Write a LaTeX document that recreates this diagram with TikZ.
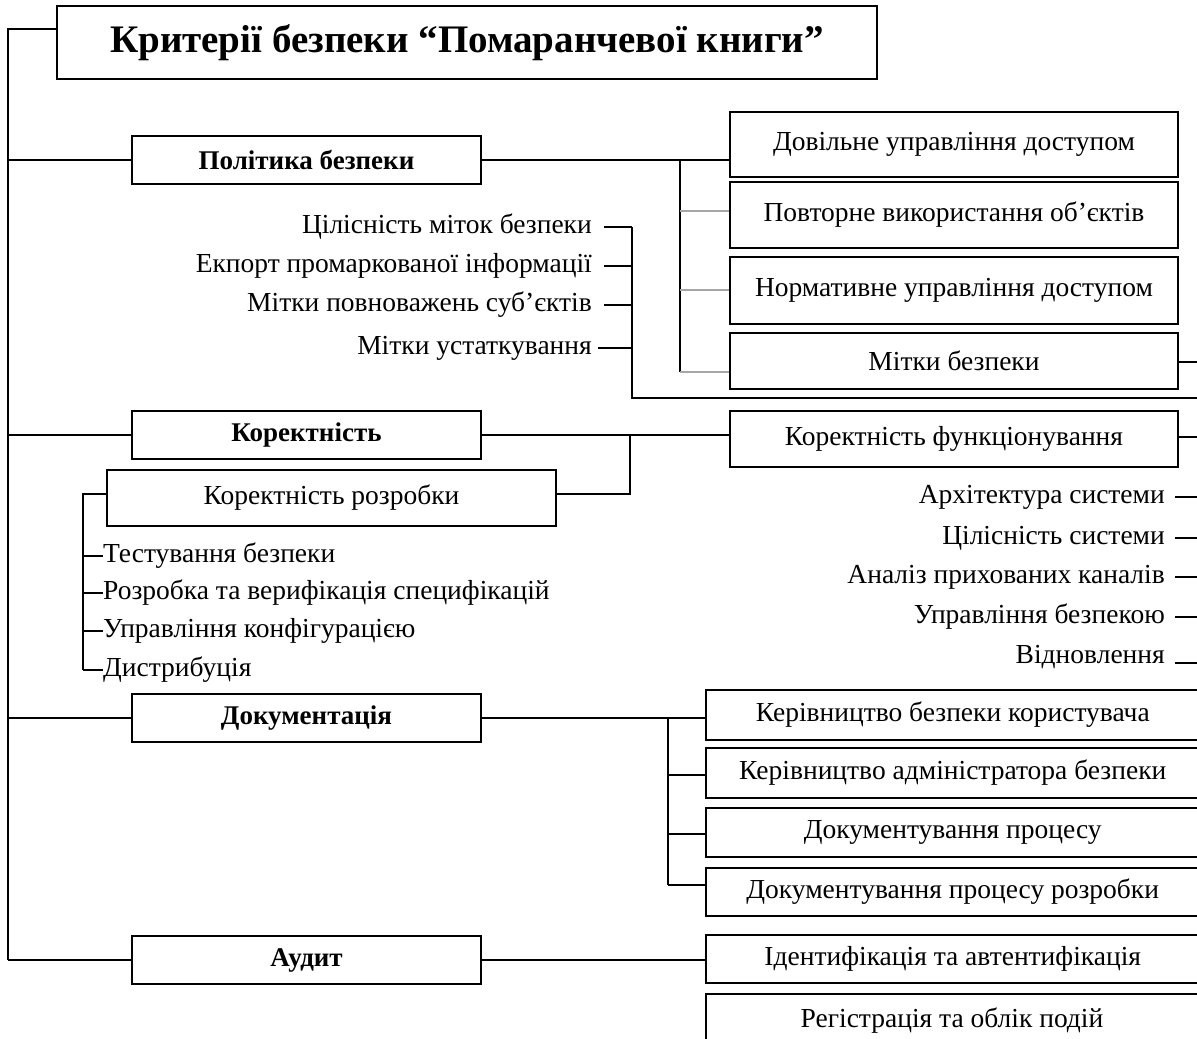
\documentclass[tikz,border=0pt]{standalone}
\usepackage{fontspec}
\setmainfont{Liberation Serif}
\usetikzlibrary{positioning}
\usetikzlibrary{calc}

\begin{document}
\begin{tikzpicture}[
    x=1pt, y=-1pt,
    box/.style={draw, line width=1.5pt, inner sep=0pt, font=\fontsize{27.5}{30}\selectfont},
    catbox/.style={box, minimum width=349, minimum height=48, font=\bfseries\fontsize{27}{30}\selectfont},
    item/.style={inner sep=0pt, font=\fontsize{27.5}{30}\selectfont},
    link/.style={line width=1.5pt},
    glink/.style={line width=1.5pt, gray!70}
]
    \useasboundingbox (0,0) rectangle (1197,1039);
    \clip (0,0) rectangle (1197,1039);

    % title and main criteria
    \node[box, minimum width=820, minimum height=73, font=\bfseries\fontsize{39}{44}\selectfont] (title) at (467,42.5) {Критерії безпеки “Помаранчевої книги”};
    \coordinate (root) at (8,29);

    \node[catbox] (pol) at (306.5,160) {Політика безпеки};
    \node[catbox] (kor) at (306.5,435) {Коректність};
    \node[catbox] (dok) at (306.5,718) {Документація};
    \node[catbox] (aud) at (306.5,960) {Аудит};

    \draw[link] (root -| title.west) -- (root) -- (root |- aud);
    \foreach \n in {pol, kor, dok, aud} {
        \draw[link] (root |- \n) -- (\n.west);
    }

    % security policy
    \node[box, minimum width=448, minimum height=65] (dov) at (954,144.5) {Довільне управління доступом};
    \node[box, minimum width=448, minimum height=66] (pov) at (954,215) {Повторне використання об’єктів};
    \node[box, minimum width=448, minimum height=67] (norm) at (954,290.5) {Нормативне управління доступом};
    \node[box, minimum width=448, minimum height=56] (mit) at (954,361) {Мітки безпеки};

    \coordinate (pj) at (680,160);
    \draw[link] (pol.east) -- (pol.east -| dov.west);
    \draw[link] (pj) -- (pj |- 0,372);
    \foreach \b/\yy in {pov/211, norm/290, mit/372} {
        \draw[glink] (pj |- 0,\yy) -- (\b.west |- 0,\yy);
    }
    \coordinate (mr) at (1197,362);
    \draw[link] (mit.east |- mr) -- (mr);

    \foreach \t/\yy [count=\i] in {Цілісність міток безпеки/227, Екпорт промаркованої інформації/266,
            Мітки повноважень суб’єктів/305, Мітки устаткування/348} {
        \node[item, anchor=east] (ml\i) at (592,\yy) {\t};
    }
    \coordinate (mj) at (632,398);
    \coordinate (mjr) at (1197,398);
    \foreach \i in {1,2,3} {
        \draw[link] ([xshift=12pt]ml\i.east) -- (ml\i.east -| mj);
    }
    \draw[link] ([xshift=6pt]ml4.east) -- (ml4.east -| mj);
    \draw[link] (ml1.east -| mj) -- (mj) -- (mjr);

    % correctness
    \node[box, minimum width=448, minimum height=56] (fun) at (954,439) {Коректність функціонування};
    \node[box, minimum width=449, minimum height=56] (roz) at (331.5,498) {Коректність розробки};

    \coordinate (kj) at (630,435);
    \draw[link] (kor.east) -- (kor.east -| fun.west);
    \draw[link] (kj) -- (kj |- 0,494) -- (roz.east |- 0,494);
    \coordinate (fr) at (1197,437);
    \draw[link] (fun.east |- fr) -- (fr);

    \coordinate (rj) at (83,494);
    \foreach \t/\yy [count=\i] in {Тестування безпеки/556, Розробка та верифікація специфікацій/593,
            Управління конфігурацією/631, Дистрибуція/670} {
        \node[item, anchor=west] (rl\i) at (103,\yy) {\t};
        \draw[link] (rj |- rl\i) -- (rl\i.west);
    }
    \draw[link] (roz.west |- rj) -- (rj) -- (rj |- rl4);

    \foreach \t/\yy/\dy [count=\i] in {Архітектура системи/497/0, Цілісність системи/538/0,
            Аналіз прихованих каналів/577/0, Управління безпекою/617/0, Відновлення/657/6} {
        \node[item, anchor=east] (fl\i) at (1165,\yy) {\t};
        \coordinate (fe\i) at (1197,\yy+\dy);
        \draw[link] ([xshift=10pt]fl\i.east |- fe\i) -- (fe\i);
    }

    % documentation
    \node[box, anchor=west, minimum width=494, minimum height=50] (k1) at (705,715) {Керівництво безпеки користувача};
    \node[box, anchor=west, minimum width=494, minimum height=50] (k2) at (705,773) {Керівництво адміністратора безпеки};
    \node[box, anchor=west, minimum width=494, minimum height=49] (k3) at (705,832.5) {Документування процесу};
    \node[box, anchor=west, minimum width=494, minimum height=48] (k4) at (705,892) {Документування процесу розробки};

    \coordinate (dj) at (668,718);
    \draw[link] (dok.east) -- (dok.east -| k1.west);
    \draw[link] (dj) -- (dj |- 0,885);
    \foreach \b/\yy in {k2/775, k3/834, k4/885} {
        \draw[link] (dj |- 0,\yy) -- (\b.west |- 0,\yy);
    }

    % audit
    \node[box, anchor=west, minimum width=494, minimum height=48] (id) at (705,959) {Ідентифікація та автентифікація};
    \node[box, anchor=north west, minimum width=494, minimum height=56, text depth=0pt, text height=0pt] (reg) at (705,993) {};
    \node[item] (regt) at (952,1021) {Регістрація та облік подій};
    \draw[link] (aud.east) -- (aud.east -| id.west);
\end{tikzpicture}
\end{document}
